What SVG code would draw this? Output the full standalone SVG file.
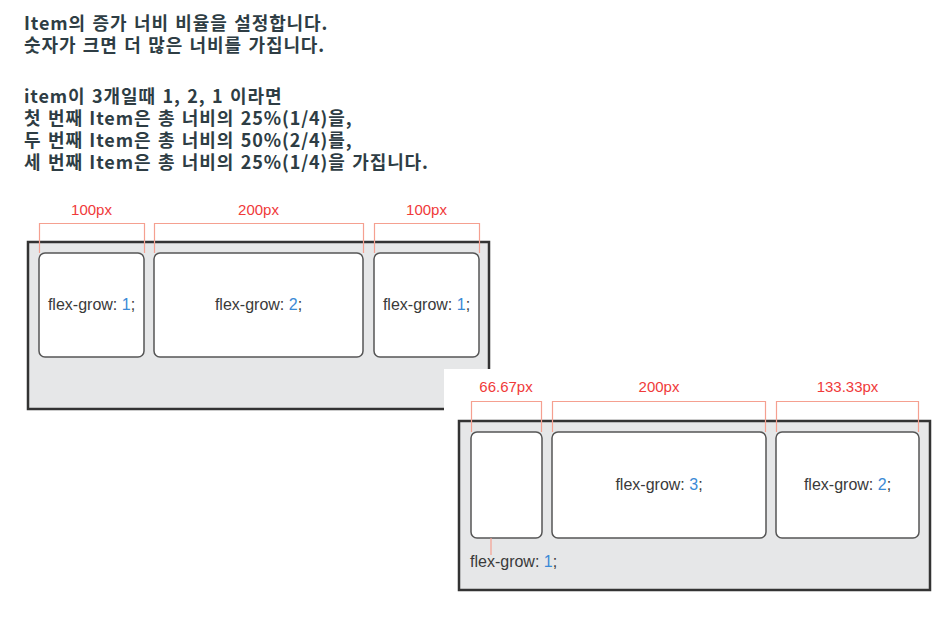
<svg xmlns="http://www.w3.org/2000/svg" width="943" height="624" viewBox="0 0 943 624">
<style>
.hd{font-family:"Noto Sans CJK KR","Noto Sans",sans-serif;font-weight:bold;font-size:18px;fill:#2e3d44;letter-spacing:0.9px;word-spacing:1.5px}
.lbl{font-family:"Liberation Sans",Arial,sans-serif;font-size:15px;fill:#f03a3a;text-anchor:middle}
.fg{font-family:"Liberation Sans",Arial,sans-serif;font-size:16px;fill:#3a3a3a}
.fgc{text-anchor:middle}
.num{fill:#3b8ad6}
.cont{fill:#e6e7e8;stroke:#333;stroke-width:2.5}
.box{fill:#fff;stroke:#555;stroke-width:1.5}
.br{fill:none;stroke:#f5a090;stroke-width:1.2}
</style>
<rect width="943" height="624" fill="#fff"/>
<g id="header">
<text class="hd" x="24" y="30">Item의 증가 너비 비율을 설정합니다.</text>
<text class="hd" x="24" y="52">숫자가 크면 더 많은 너비를 가집니다.</text>
<text class="hd" x="24" y="103">item이 3개일때 1, 2, 1 이라면</text>
<text class="hd" x="24" y="125">첫 번째 Item은 총 너비의 25%(1/4)을,</text>
<text class="hd" x="24" y="147">두 번째 Item은 총 너비의 50%(2/4)를,</text>
<text class="hd" x="24" y="169">세 번째 Item은 총 너비의 25%(1/4)을 가집니다.</text>
</g>
<g id="container1">
<rect class="cont" x="28" y="242" width="461" height="167"/>
</g>
<g id="item1a"><rect class="box" x="39" y="253" width="105" height="104" rx="6"/>
<text class="fg fgc" x="91.5" y="310">flex-grow: <tspan class="num">1</tspan>;</text></g>
<g id="item1b"><rect class="box" x="154" y="253" width="209" height="104" rx="6"/>
<text class="fg fgc" x="258.5" y="310">flex-grow: <tspan class="num">2</tspan>;</text></g>
<g id="item1c"><rect class="box" x="374" y="253" width="105" height="104" rx="6"/>
<text class="fg fgc" x="426.5" y="310">flex-grow: <tspan class="num">1</tspan>;</text></g>
<g id="overlay"><rect x="444" y="369" width="499" height="255" fill="#fff"/></g>
<g id="container2">
<rect class="cont" x="459" y="421" width="471" height="169"/>
</g>
<g id="item2a"><rect class="box" x="471" y="432" width="71" height="106" rx="6"/></g>
<g id="item2b"><rect class="box" x="552" y="432" width="214" height="106" rx="6"/>
<text class="fg fgc" x="659" y="490">flex-grow: <tspan class="num">3</tspan>;</text></g>
<g id="item2c"><rect class="box" x="776" y="432" width="143" height="106" rx="6"/>
<text class="fg fgc" x="847.5" y="490">flex-grow: <tspan class="num">2</tspan>;</text></g>
<g id="label-item2a"><text class="fg" x="470" y="567">flex-grow: <tspan class="num">1</tspan>;</text></g>
<g id="connectors">
<path class="br" d="M39.5 253V223.5H144.5V253"/>
<path class="br" d="M154.5 253V223.5H363.5V253"/>
<path class="br" d="M374.5 253V223.5H479.5V253"/>
<path class="br" d="M471.5 432V401.5H541.5V432"/>
<path class="br" d="M552.5 432V401.5H765.5V432"/>
<path class="br" d="M776.5 432V401.5H918.5V432"/>
<path class="br" d="M491 538V555"/>
</g>
<g id="labels">
<text class="lbl" x="91.5" y="215">100px</text>
<text class="lbl" x="258.5" y="215">200px</text>
<text class="lbl" x="426.5" y="215">100px</text>
<text class="lbl" x="506" y="392">66.67px</text>
<text class="lbl" x="659" y="392">200px</text>
<text class="lbl" x="847.5" y="392">133.33px</text>
</g>
</svg>
